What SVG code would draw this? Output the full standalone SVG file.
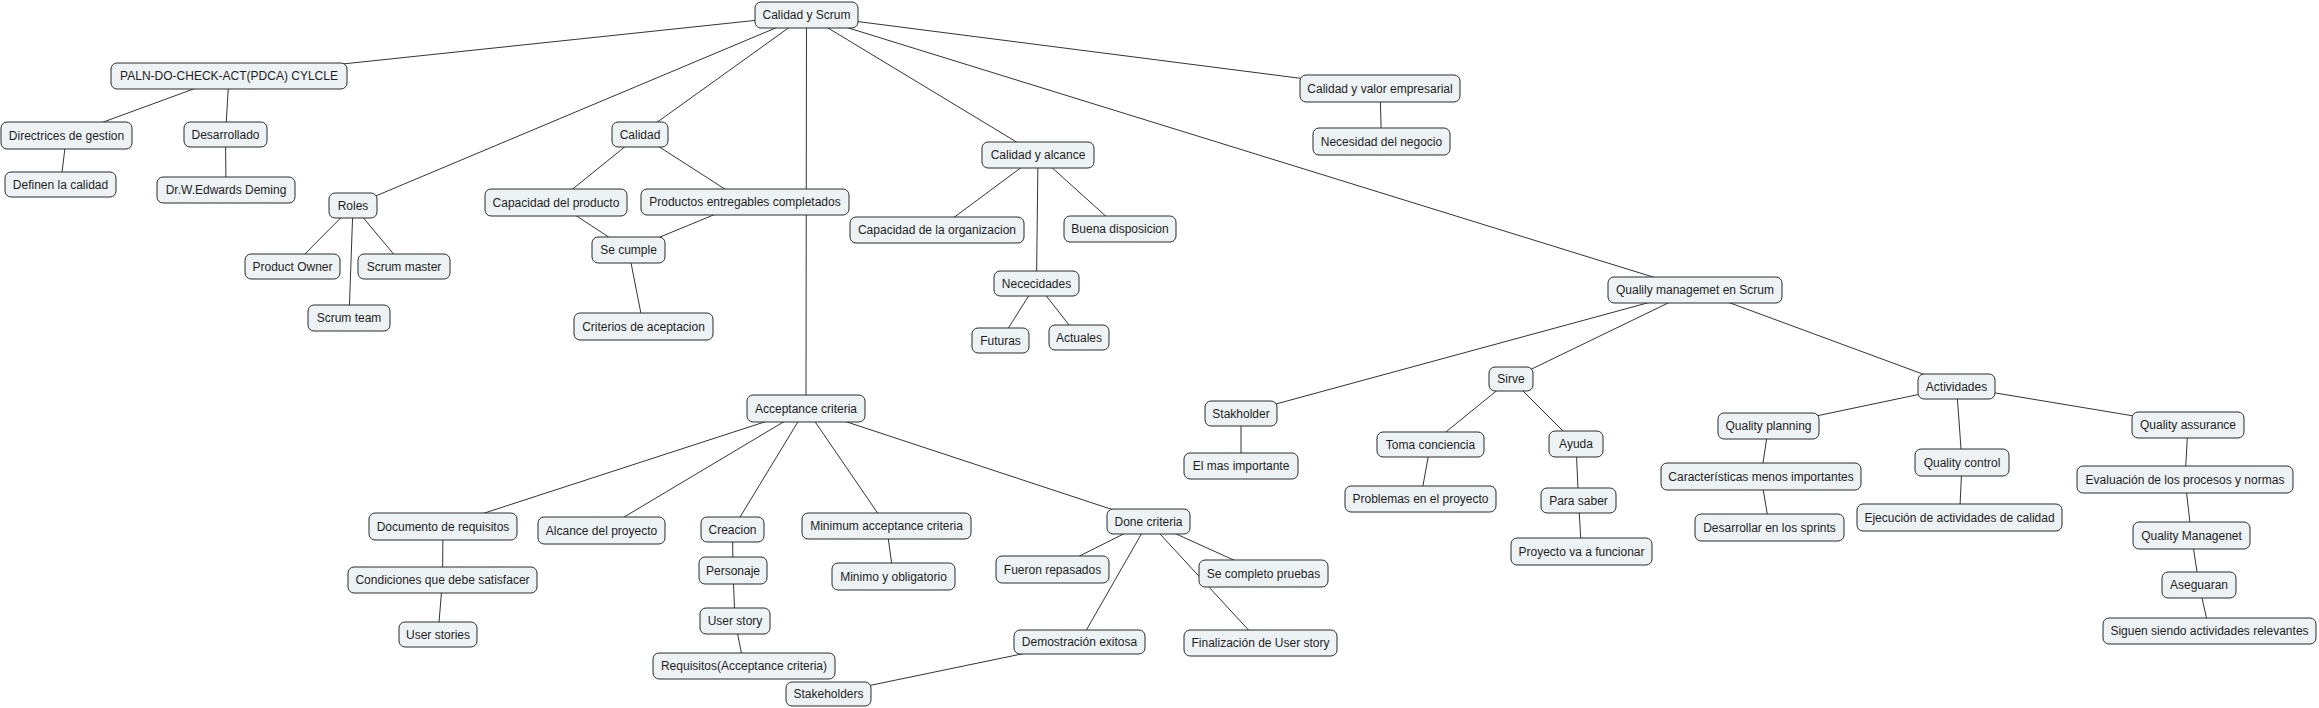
<svg xmlns="http://www.w3.org/2000/svg" width="2319" height="708" viewBox="0 0 2319 708">
<style>
.n rect{fill:#edf2f4;stroke:#2a2a2a;stroke-width:1}
.n text{font-family:"Liberation Sans",Arial,sans-serif;font-size:12px;fill:#1e1e1e;text-anchor:middle}
#edges line{stroke:#333;stroke-width:1}
</style>
<rect width="2319" height="708" fill="#fff"/>
<g id="edges">
<line x1="806.5" y1="15" x2="229" y2="76"/>
<line x1="806.5" y1="15" x2="353" y2="205.5"/>
<line x1="806.5" y1="15" x2="640" y2="134.5"/>
<line x1="806.5" y1="15" x2="806" y2="408.5"/>
<line x1="806.5" y1="15" x2="1038" y2="155"/>
<line x1="806.5" y1="15" x2="1695" y2="290"/>
<line x1="806.5" y1="15" x2="1380" y2="88.5"/>
<line x1="229" y1="76" x2="66.5" y2="135.5"/>
<line x1="229" y1="76" x2="225.5" y2="134.5"/>
<line x1="66.5" y1="135.5" x2="60.5" y2="184.5"/>
<line x1="225.5" y1="134.5" x2="226" y2="190"/>
<line x1="353" y1="205.5" x2="292.5" y2="266.5"/>
<line x1="353" y1="205.5" x2="404" y2="266.5"/>
<line x1="353" y1="205.5" x2="349" y2="318"/>
<line x1="640" y1="134.5" x2="556" y2="202.5"/>
<line x1="640" y1="134.5" x2="745" y2="202"/>
<line x1="556" y1="202.5" x2="628.5" y2="250"/>
<line x1="745" y1="202" x2="628.5" y2="250"/>
<line x1="628.5" y1="250" x2="643.5" y2="326.5"/>
<line x1="1038" y1="155" x2="937" y2="230"/>
<line x1="1038" y1="155" x2="1036.5" y2="283.5"/>
<line x1="1038" y1="155" x2="1120" y2="229"/>
<line x1="1036.5" y1="283.5" x2="1000.5" y2="340.5"/>
<line x1="1036.5" y1="283.5" x2="1079" y2="337.5"/>
<line x1="1380" y1="88.5" x2="1381.5" y2="141.5"/>
<line x1="1695" y1="290" x2="1241" y2="413.5"/>
<line x1="1695" y1="290" x2="1511" y2="379"/>
<line x1="1695" y1="290" x2="1956.5" y2="386.5"/>
<line x1="1241" y1="413.5" x2="1241" y2="466"/>
<line x1="1511" y1="379" x2="1430.5" y2="444.5"/>
<line x1="1511" y1="379" x2="1576" y2="444"/>
<line x1="1430.5" y1="444.5" x2="1420.5" y2="499"/>
<line x1="1576" y1="444" x2="1578.5" y2="500.5"/>
<line x1="1578.5" y1="500.5" x2="1581.5" y2="551.5"/>
<line x1="1956.5" y1="386.5" x2="1768.5" y2="426"/>
<line x1="1956.5" y1="386.5" x2="1962" y2="462.5"/>
<line x1="1956.5" y1="386.5" x2="2188" y2="425"/>
<line x1="1768.5" y1="426" x2="1761" y2="476.5"/>
<line x1="1761" y1="476.5" x2="1769.5" y2="527.5"/>
<line x1="1962" y1="462.5" x2="1959.5" y2="517.5"/>
<line x1="2188" y1="425" x2="2185" y2="479.5"/>
<line x1="2185" y1="479.5" x2="2191.5" y2="535.5"/>
<line x1="2191.5" y1="535.5" x2="2199" y2="585"/>
<line x1="2199" y1="585" x2="2209.5" y2="631"/>
<line x1="806" y1="408.5" x2="443" y2="526.5"/>
<line x1="806" y1="408.5" x2="601.5" y2="530.5"/>
<line x1="806" y1="408.5" x2="732.5" y2="529.5"/>
<line x1="806" y1="408.5" x2="886.5" y2="526"/>
<line x1="806" y1="408.5" x2="1148.5" y2="521.5"/>
<line x1="443" y1="526.5" x2="442.5" y2="580"/>
<line x1="442.5" y1="580" x2="438" y2="634.5"/>
<line x1="732.5" y1="529.5" x2="733" y2="570.5"/>
<line x1="733" y1="570.5" x2="735" y2="621"/>
<line x1="735" y1="621" x2="744" y2="666"/>
<line x1="886.5" y1="526" x2="893.5" y2="576.5"/>
<line x1="1148.5" y1="521.5" x2="1052.5" y2="569.5"/>
<line x1="1148.5" y1="521.5" x2="1079.5" y2="642"/>
<line x1="1148.5" y1="521.5" x2="1263.5" y2="573.5"/>
<line x1="1148.5" y1="521.5" x2="1260.5" y2="643"/>
<line x1="1079.5" y1="642" x2="828.5" y2="694"/>
</g>
<g id="n1" class="n"><rect x="755" y="2" width="103" height="26" rx="6"/><text x="806.5" y="19.2">Calidad y Scrum</text></g>
<g id="n2" class="n"><rect x="111" y="63" width="236" height="26" rx="6"/><text x="229" y="80.2">PALN-DO-CHECK-ACT(PDCA) CYLCLE</text></g>
<g id="n3" class="n"><rect x="1" y="122" width="131" height="27" rx="6"/><text x="66.5" y="139.7">Directrices de gestion</text></g>
<g id="n4" class="n"><rect x="184" y="122" width="83" height="25" rx="6"/><text x="225.5" y="138.7">Desarrollado</text></g>
<g id="n5" class="n"><rect x="5" y="172" width="111" height="25" rx="6"/><text x="60.5" y="188.7">Definen la calidad</text></g>
<g id="n6" class="n"><rect x="157" y="177" width="138" height="26" rx="6"/><text x="226" y="194.2">Dr.W.Edwards Deming</text></g>
<g id="n7" class="n"><rect x="329" y="193" width="48" height="25" rx="6"/><text x="353" y="209.7">Roles</text></g>
<g id="n8" class="n"><rect x="245" y="254" width="95" height="25" rx="6"/><text x="292.5" y="270.7">Product Owner</text></g>
<g id="n9" class="n"><rect x="358" y="254" width="92" height="25" rx="6"/><text x="404" y="270.7">Scrum master</text></g>
<g id="n10" class="n"><rect x="308" y="305" width="82" height="26" rx="6"/><text x="349" y="322.2">Scrum team</text></g>
<g id="n11" class="n"><rect x="612" y="122" width="56" height="25" rx="6"/><text x="640" y="138.7">Calidad</text></g>
<g id="n12" class="n"><rect x="485" y="189" width="142" height="27" rx="6"/><text x="556" y="206.7">Capacidad del producto</text></g>
<g id="n13" class="n"><rect x="641" y="189" width="208" height="26" rx="6"/><text x="745" y="206.2">Productos entregables completados</text></g>
<g id="n14" class="n"><rect x="592" y="237" width="73" height="26" rx="6"/><text x="628.5" y="254.2">Se cumple</text></g>
<g id="n15" class="n"><rect x="574" y="313" width="139" height="27" rx="6"/><text x="643.5" y="330.7">Criterios de aceptacion</text></g>
<g id="n16" class="n"><rect x="982" y="142" width="112" height="26" rx="6"/><text x="1038" y="159.2">Calidad y alcance</text></g>
<g id="n17" class="n"><rect x="850" y="217" width="174" height="26" rx="6"/><text x="937" y="234.2">Capacidad de la organizacion</text></g>
<g id="n18" class="n"><rect x="1064" y="216" width="112" height="26" rx="6"/><text x="1120" y="233.2">Buena disposicion</text></g>
<g id="n19" class="n"><rect x="994" y="271" width="85" height="25" rx="6"/><text x="1036.5" y="287.7">Nececidades</text></g>
<g id="n20" class="n"><rect x="972" y="328" width="57" height="25" rx="6"/><text x="1000.5" y="344.7">Futuras</text></g>
<g id="n21" class="n"><rect x="1049" y="325" width="60" height="25" rx="6"/><text x="1079" y="341.7">Actuales</text></g>
<g id="n22" class="n"><rect x="1300" y="75" width="160" height="27" rx="6"/><text x="1380" y="92.7">Calidad y valor empresarial</text></g>
<g id="n23" class="n"><rect x="1313" y="128" width="137" height="27" rx="6"/><text x="1381.5" y="145.7">Necesidad del negocio</text></g>
<g id="n24" class="n"><rect x="1608" y="277" width="174" height="26" rx="6"/><text x="1695" y="294.2">Qualily managemet en Scrum</text></g>
<g id="n25" class="n"><rect x="1205" y="401" width="72" height="25" rx="6"/><text x="1241" y="417.7">Stakholder</text></g>
<g id="n26" class="n"><rect x="1184" y="453" width="114" height="26" rx="6"/><text x="1241" y="470.2">El mas importante</text></g>
<g id="n27" class="n"><rect x="1489" y="367" width="44" height="24" rx="6"/><text x="1511" y="383.2">Sirve</text></g>
<g id="n28" class="n"><rect x="1377" y="432" width="107" height="25" rx="6"/><text x="1430.5" y="448.7">Toma conciencia</text></g>
<g id="n29" class="n"><rect x="1549" y="431" width="54" height="26" rx="6"/><text x="1576" y="448.2">Ayuda</text></g>
<g id="n30" class="n"><rect x="1345" y="486" width="151" height="26" rx="6"/><text x="1420.5" y="503.2">Problemas en el proyecto</text></g>
<g id="n31" class="n"><rect x="1541" y="488" width="75" height="25" rx="6"/><text x="1578.5" y="504.7">Para saber</text></g>
<g id="n32" class="n"><rect x="1511" y="538" width="141" height="27" rx="6"/><text x="1581.5" y="555.7">Proyecto va a funcionar</text></g>
<g id="n33" class="n"><rect x="1918" y="374" width="77" height="25" rx="6"/><text x="1956.5" y="390.7">Actividades</text></g>
<g id="n34" class="n"><rect x="1718" y="413" width="101" height="26" rx="6"/><text x="1768.5" y="430.2">Quality planning</text></g>
<g id="n35" class="n"><rect x="1915" y="449" width="94" height="27" rx="6"/><text x="1962" y="466.7">Quality control</text></g>
<g id="n36" class="n"><rect x="2132" y="412" width="112" height="26" rx="6"/><text x="2188" y="429.2">Quality assurance</text></g>
<g id="n37" class="n"><rect x="1661" y="463" width="200" height="27" rx="6"/><text x="1761" y="480.7">Características menos importantes</text></g>
<g id="n38" class="n"><rect x="1695" y="514" width="149" height="27" rx="6"/><text x="1769.5" y="531.7">Desarrollar en los sprints</text></g>
<g id="n39" class="n"><rect x="1857" y="504" width="205" height="27" rx="6"/><text x="1959.5" y="521.7">Ejecución de actividades de calidad</text></g>
<g id="n40" class="n"><rect x="2077" y="466" width="216" height="27" rx="6"/><text x="2185" y="483.7">Evaluación de los procesos y normas</text></g>
<g id="n41" class="n"><rect x="2133" y="522" width="117" height="27" rx="6"/><text x="2191.5" y="539.7">Quality Managenet</text></g>
<g id="n42" class="n"><rect x="2162" y="572" width="74" height="26" rx="6"/><text x="2199" y="589.2">Aseguaran</text></g>
<g id="n43" class="n"><rect x="2103" y="618" width="213" height="26" rx="6"/><text x="2209.5" y="635.2">Siguen siendo actividades relevantes</text></g>
<g id="n44" class="n"><rect x="747" y="395" width="118" height="27" rx="6"/><text x="806" y="412.7">Acceptance criteria</text></g>
<g id="n45" class="n"><rect x="369" y="513" width="148" height="27" rx="6"/><text x="443" y="530.7">Documento de requisitos</text></g>
<g id="n46" class="n"><rect x="538" y="517" width="127" height="27" rx="6"/><text x="601.5" y="534.7">Alcance del proyecto</text></g>
<g id="n47" class="n"><rect x="701" y="517" width="63" height="25" rx="6"/><text x="732.5" y="533.7">Creacion</text></g>
<g id="n48" class="n"><rect x="802" y="513" width="169" height="26" rx="6"/><text x="886.5" y="530.2">Minimum acceptance criteria</text></g>
<g id="n49" class="n"><rect x="1107" y="509" width="83" height="25" rx="6"/><text x="1148.5" y="525.7">Done criteria</text></g>
<g id="n50" class="n"><rect x="348" y="567" width="189" height="26" rx="6"/><text x="442.5" y="584.2">Condiciones que debe satisfacer</text></g>
<g id="n51" class="n"><rect x="399" y="622" width="78" height="25" rx="6"/><text x="438" y="638.7">User stories</text></g>
<g id="n52" class="n"><rect x="699" y="557" width="68" height="27" rx="6"/><text x="733" y="574.7">Personaje</text></g>
<g id="n53" class="n"><rect x="832" y="563" width="123" height="27" rx="6"/><text x="893.5" y="580.7">Minimo y obligatorio</text></g>
<g id="n54" class="n"><rect x="700" y="608" width="70" height="26" rx="6"/><text x="735" y="625.2">User story</text></g>
<g id="n55" class="n"><rect x="653" y="653" width="182" height="26" rx="6"/><text x="744" y="670.2">Requisitos(Acceptance criteria)</text></g>
<g id="n56" class="n"><rect x="786" y="682" width="85" height="24" rx="6"/><text x="828.5" y="698.2">Stakeholders</text></g>
<g id="n57" class="n"><rect x="996" y="556" width="113" height="27" rx="6"/><text x="1052.5" y="573.7">Fueron repasados</text></g>
<g id="n58" class="n"><rect x="1199" y="560" width="129" height="27" rx="6"/><text x="1263.5" y="577.7">Se completo pruebas</text></g>
<g id="n59" class="n"><rect x="1014" y="630" width="131" height="24" rx="6"/><text x="1079.5" y="646.2">Demostración exitosa</text></g>
<g id="n60" class="n"><rect x="1184" y="630" width="153" height="26" rx="6"/><text x="1260.5" y="647.2">Finalización de User story</text></g>
</svg>
